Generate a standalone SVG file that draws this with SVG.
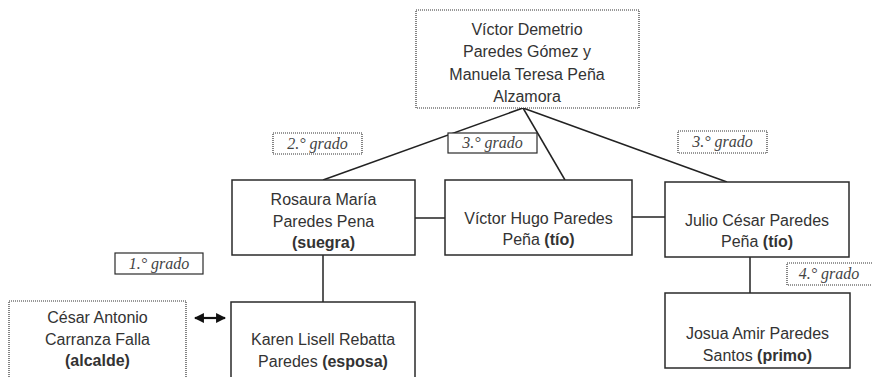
<svg xmlns="http://www.w3.org/2000/svg" width="872" height="377" viewBox="0 0 872 377">
<style>
.box{fill:#fff;stroke:#2a2a2a;stroke-width:1.5}
.dot{fill:#fff;stroke:#333;stroke-width:1.2;stroke-dasharray:1 1}
.t{font-family:"Liberation Sans",Arial,sans-serif;font-size:16px;fill:#333;text-anchor:middle}
.b{font-weight:bold}
.g{font-family:"Liberation Serif","Times New Roman",serif;font-style:italic;font-size:16px;fill:#444;text-anchor:middle}
.c{stroke:#222;stroke-width:1.5;fill:none}
</style>
<defs>
<marker id="ah" viewBox="0 0 10 10" refX="9" refY="5" markerWidth="4.5" markerHeight="4.5" orient="auto-start-reverse">
<path d="M0,0 L10,5 L0,10 Z" fill="#111"/>
</marker>
</defs>
<g id="connectors">
<line class="c" x1="523" y1="108" x2="323" y2="180"/>
<line class="c" x1="523" y1="108" x2="565" y2="180"/>
<line class="c" x1="523" y1="108" x2="727" y2="182"/>
<line class="c" x1="415" y1="218" x2="445" y2="218"/>
<line class="c" x1="632" y1="217" x2="665" y2="217"/>
<line class="c" x1="323" y1="255" x2="323" y2="302"/>
<line class="c" x1="750" y1="257" x2="750" y2="293"/>
<line x1="195" y1="318" x2="225" y2="318" stroke="#111" stroke-width="2.2" marker-start="url(#ah)" marker-end="url(#ah)"/>
</g>
<g id="padres">
<rect class="dot" x="416" y="10" width="223" height="98"/>
<text class="t" x="527" y="35">Víctor Demetrio</text>
<text class="t" x="527" y="57">Paredes Gómez y</text>
<text class="t" x="527" y="80">Manuela Teresa Peña</text>
<text class="t" x="527" y="102">Alzamora</text>
</g>
<g id="grado2">
<rect class="dot" x="273" y="133" width="89" height="21"/>
<text class="g" x="317.5" y="149">2.° grado</text>
</g>
<g id="grado3a">
<rect class="box" x="448" y="133" width="89" height="20" style="stroke-width:1.2"/>
<text class="g" x="492.5" y="148">3.° grado</text>
</g>
<g id="grado3b">
<rect class="dot" x="678" y="131" width="89" height="22"/>
<text class="g" x="722.5" y="147">3.° grado</text>
</g>
<g id="rosaura">
<rect class="box" x="232" y="180" width="183" height="75"/>
<text class="t" x="323.5" y="205">Rosaura María</text>
<text class="t" x="323.5" y="227">Paredes Pena</text>
<text class="t b" x="323.5" y="248">(suegra)</text>
</g>
<g id="victorhugo">
<rect class="box" x="445" y="180" width="187" height="75"/>
<text class="t" x="538.5" y="224">Víctor Hugo Paredes</text>
<text class="t" x="538.5" y="245">Peña <tspan class="b">(tío)</tspan></text>
</g>
<g id="julio">
<rect class="box" x="665" y="182" width="184" height="75"/>
<text class="t" x="757" y="226">Julio César Paredes</text>
<text class="t" x="757" y="247">Peña <tspan class="b">(tío)</tspan></text>
</g>
<g id="grado1">
<rect class="box" x="115" y="253" width="88" height="21" style="stroke-width:1.2"/>
<text class="g" x="159" y="269">1.° grado</text>
</g>
<g id="grado4">
<rect class="dot" x="787" y="263" width="90" height="22"/>
<text class="g" x="829" y="279">4.° grado</text>
</g>
<g id="cesar">
<rect class="dot" x="9" y="301" width="177" height="90"/>
<text class="t" x="97.5" y="323">César Antonio</text>
<text class="t" x="97.5" y="345">Carranza Falla</text>
<text class="t b" x="97.5" y="366">(alcalde)</text>
</g>
<g id="karen">
<rect class="box" x="231" y="302" width="184" height="90"/>
<text class="t" x="323" y="345">Karen Lisell Rebatta</text>
<text class="t" x="323" y="367">Paredes <tspan class="b">(esposa)</tspan></text>
</g>
<g id="josua">
<rect class="box" x="665" y="293" width="185" height="75"/>
<text class="t" x="757.5" y="339">Josua Amir Paredes</text>
<text class="t" x="757.5" y="361">Santos <tspan class="b">(primo)</tspan></text>
</g>
</svg>
